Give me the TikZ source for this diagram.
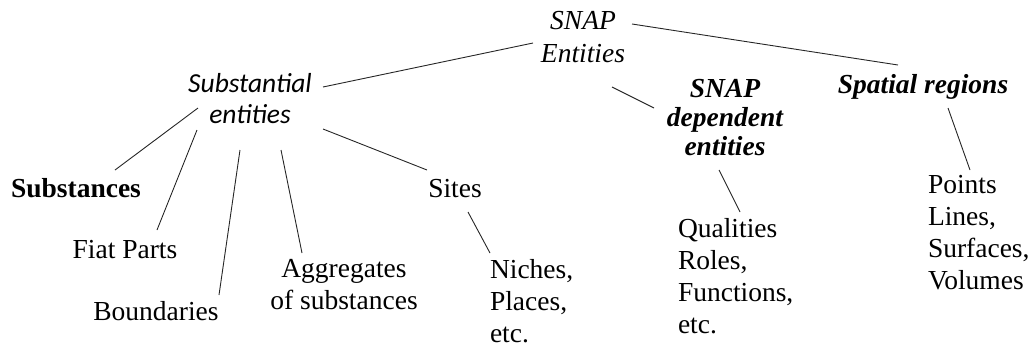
\documentclass[tikz,border=0pt]{standalone}
\usepackage{fontspec}
\setmainfont{Liberation Serif}
\newfontfamily\calib{Carlito}
\newcommand{\mlines}[3]{{\fontsize{27.5}{#2}\selectfont\begin{tabular}[t]{@{}#1@{}}#3\end{tabular}}}
\tikzset{
  lbl/.style={inner sep=0pt, outer sep=0pt, font=\fontsize{27.5}{32}\selectfont},
  conn/.style={draw=black!85, line width=0.9pt}
}
\begin{document}
\begin{tikzpicture}[x=1pt,y=-1pt]
\useasboundingbox (0,0) rectangle (1034,349);
% upper level
\node[lbl, anchor=base] (snap) at (583,29) {\mlines{c}{33}{\itshape SNAP\\\itshape Entities}};
\node[lbl, anchor=base] (subst) at (250,92) {\mlines{c}{31}{\calib\itshape Substantial\\\calib\itshape entities}};
\node[lbl, anchor=base] (snapdep) at (725,97) {\mlines{c}{29}{\bfseries\itshape SNAP\\\bfseries\itshape dependent\\\bfseries\itshape entities}};
\node[lbl, anchor=base] (spatial) at (923,93) {\bfseries\itshape Spatial regions};
% lower level
\node[lbl, anchor=base] (substances) at (76,197) {\bfseries Substances};
\node[lbl, anchor=base] (fiat) at (125,258) {Fiat Parts};
\node[lbl, anchor=base] (bound) at (156,320) {Boundaries};
\node[lbl, anchor=base] (aggr) at (344,277) {\mlines{c}{32}{Aggregates\\of substances}};
\node[lbl, anchor=base] (sites) at (455,197) {Sites};
\node[lbl, anchor=base west] (niches) at (490,278) {\mlines{l}{32}{Niches,\\Places,\\etc.}};
\node[lbl, anchor=base west] (qual) at (678,237) {\mlines{l}{32}{Qualities\\Roles,\\Functions,\\etc.}};
\node[lbl, anchor=base west] (points) at (928,193) {\mlines{l}{32}{Points\\Lines,\\Surfaces,\\Volumes}};
% connector ends
\coordinate (snap-sw) at (533,43);
\coordinate (snap-s) at (612,87);
\coordinate (snap-e) at (632,24);
\coordinate (subst-e) at (323,87);
\coordinate (snapdep-n) at (654,108);
\coordinate (spatial-n) at (898,65);
\coordinate (subst-a) at (198,108);
\coordinate (subst-b) at (197,130);
\coordinate (subst-c) at (240,150);
\coordinate (subst-d) at (281,150);
\coordinate (subst-f) at (323,129);
\coordinate (substances-n) at (115,170);
\coordinate (fiat-n) at (157,230);
\coordinate (bound-n) at (219,295);
\coordinate (aggr-n) at (302,253);
\coordinate (sites-w) at (427,170);
\coordinate (sites-s) at (468,212);
\coordinate (niches-n) at (490,253);
\coordinate (snapdep-s) at (719,170);
\coordinate (qual-n) at (740,212);
\coordinate (spatial-s) at (948,108);
\coordinate (points-n) at (970,170);
% connectors
\draw[conn] (snap-sw) -- (subst-e);
\draw[conn] (snap-s) -- (snapdep-n);
\draw[conn] (snap-e) -- (spatial-n);
\draw[conn] (subst-a) -- (substances-n);
\draw[conn] (subst-b) -- (fiat-n);
\draw[conn] (subst-c) -- (bound-n);
\draw[conn] (subst-d) -- (aggr-n);
\draw[conn] (subst-f) -- (sites-w);
\draw[conn] (sites-s) -- (niches-n);
\draw[conn] (snapdep-s) -- (qual-n);
\draw[conn] (spatial-s) -- (points-n);
\end{tikzpicture}
\end{document}
